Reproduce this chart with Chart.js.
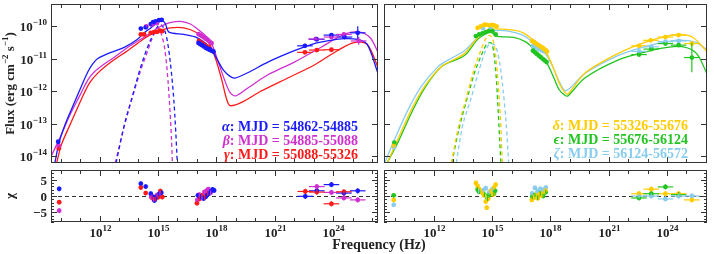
<!DOCTYPE html>
<html>
<head>
<meta charset="utf-8">
<script src="https://cdn.jsdelivr.net/npm/chart.js@4.4.0/dist/chart.umd.min.js"></script>
<style>
  html, body { margin: 0; padding: 0; background: #fff; }
  #wrap { position: relative; width: 714px; height: 254px; overflow: hidden; }
  canvas { position: absolute; }
  .leg { position: absolute; font: bold 14px "Liberation Serif", serif; line-height: 14px; text-align: right; white-space: nowrap; }
  #xtitle { position: absolute; left: 279px; width: 200px; top: 237px; font: bold 14px "Liberation Serif", serif; line-height: 16px; text-align: center; color: #222; }
</style>
</head>
<body>
<div id="wrap">
  <canvas id="tl" width="382" height="167" style="left:0;top:0"></canvas>
  <canvas id="bl" width="382" height="88" style="left:0;top:166px"></canvas>
  <canvas id="tr" width="334" height="167" style="left:380px;top:0"></canvas>
  <canvas id="br" width="334" height="88" style="left:380px;top:166px"></canvas>
  <div class="leg" style="right:356px;top:120px">
    <div style="color:#1a1aff"><i>α</i>: MJD = 54862-54885</div>
    <div style="color:#d030d0"><i>β</i>: MJD = 54885-55088</div>
    <div style="color:#ff1a1a"><i>γ</i>: MJD = 55088-55326</div>
  </div>
  <div class="leg" style="right:26px;top:119px">
    <div style="color:#ffcc00"><i>δ</i>: MJD = 55326-55676</div>
    <div style="color:#22c422"><i>ϵ</i>: MJD = 55676-56124</div>
    <div style="color:#88ccee"><i>ζ</i>: MJD = 56124-56572</div>
  </div>
  <div id="xtitle">Frequency (Hz)</div>
</div>
<script>
// all values are log10(frequency / Hz), log10(flux / erg cm^-2 s^-1) or chi
// observed points: [logNu, logF, errNu, errF]
const alphaObs = [
  [9.88, -13.55, 0, 0.05],
  [14.12, -10.07, 0, 0.03], [14.37, -10.03, 0, 0.03], [14.63, -9.93, 0, 0.03], [14.75, -9.87, 0, 0.03],
  [14.88, -9.85, 0, 0.03], [15.05, -9.81, 0, 0.03], [15.19, -9.80, 0, 0.03],
  [17.08, -10.51, 0, 0], [17.17, -10.55, 0, 0], [17.26, -10.58, 0, 0], [17.35, -10.62, 0, 0], [17.45, -10.66, 0, 0],
  [17.55, -10.69, 0, 0], [17.65, -10.72, 0, 0], [17.75, -10.75, 0, 0], [17.85, -10.78, 0, 0],
  [22.54, -10.60, 0.4, 0.06], [23.15, -10.40, 0.4, 0.05], [23.90, -10.27, 0.4, 0.05], [24.57, -10.33, 0.4, 0.06], [25.25, -10.20, 0.4, 0.2]
];
const betaObs = [
  [9.91, -13.68, 0, 0.05],
  [14.40, -10.00, 0, 0.03], [14.70, -9.95, 0, 0.03], [14.95, -9.90, 0, 0.03],
  [17.08, -10.24, 0, 0], [17.17, -10.27, 0, 0], [17.26, -10.30, 0, 0], [17.35, -10.34, 0, 0], [17.45, -10.38, 0, 0],
  [17.55, -10.42, 0, 0], [17.65, -10.47, 0, 0], [17.75, -10.52, 0, 0],
  [23.10, -10.39, 0.4, 0.05], [23.90, -10.33, 0.4, 0.05], [24.54, -10.25, 0.4, 0.06], [25.30, -10.45, 0.4, 0.12]
];
const gammaObs = [
  [9.91, -13.75, 0, 0.05],
  [14.12, -10.25, 0, 0.03], [14.29, -10.25, 0, 0.03], [14.63, -10.20, 0, 0.03], [14.80, -10.18, 0, 0.03],
  [14.96, -10.17, 0, 0.03], [15.10, -10.13, 0, 0.03], [15.22, -10.15, 0, 0.03],
  [17.10, -10.45, 0, 0], [17.25, -10.51, 0, 0], [17.40, -10.57, 0, 0], [17.55, -10.63, 0, 0],
  [22.54, -10.80, 0.4, 0.05], [23.15, -10.73, 0.4, 0.05], [23.90, -10.72, 0.4, 0.05]
];
const deltaObs = [
  [9.93, -13.68, 0, 0.05],
  [14.25, -10.05, 0, 0.03], [14.41, -10.00, 0, 0.03], [14.58, -9.96, 0, 0.03], [14.67, -9.95, 0, 0.03],
  [14.84, -9.97, 0, 0.03], [15.00, -9.96, 0, 0.03], [15.09, -9.97, 0, 0.03], [15.23, -10.00, 0, 0.03],
  [17.06, -10.45, 0, 0], [17.16, -10.49, 0, 0], [17.26, -10.53, 0, 0], [17.36, -10.57, 0, 0], [17.46, -10.61, 0, 0],
  [17.56, -10.65, 0, 0], [17.66, -10.69, 0, 0], [17.76, -10.74, 0, 0], [17.82, -10.78, 0, 0],
  [22.56, -10.60, 0.4, 0.05], [23.16, -10.43, 0.4, 0.05], [23.92, -10.33, 0.4, 0.05], [24.60, -10.27, 0.4, 0.06], [25.28, -10.53, 0.4, 0.08]
];
const epsObs = [
  [9.96, -13.58, 0, 0.05],
  [14.16, -10.30, 0, 0.03], [14.33, -10.25, 0, 0.03], [14.50, -10.22, 0, 0.03], [14.67, -10.18, 0, 0.03],
  [14.84, -10.15, 0, 0.03], [15.01, -10.15, 0, 0.03], [15.18, -10.25, 0, 0.03],
  [17.10, -10.75, 0, 0], [17.20, -10.80, 0, 0], [17.30, -10.85, 0, 0], [17.40, -10.90, 0, 0],
  [17.50, -10.95, 0, 0], [17.60, -11.00, 0, 0], [17.70, -11.05, 0, 0], [17.80, -11.10, 0, 0],
  [22.56, -10.87, 0.4, 0.05], [23.19, -10.70, 0.4, 0.05], [23.92, -10.53, 0.4, 0.05], [24.60, -10.58, 0.4, 0.06], [25.28, -10.96, 0.4, 0.45]
];
const zetaObs = [
  [9.95, -13.72, 0, 0.05],
  [14.52, -10.06, 0, 0.03], [14.92, -10.06, 0, 0.03],
  [17.10, -10.60, 0, 0], [17.25, -10.65, 0, 0], [17.40, -10.70, 0, 0], [17.55, -10.74, 0, 0], [17.70, -10.78, 0, 0],
  [22.56, -10.77, 0.4, 0.05], [23.19, -10.63, 0.4, 0.05], [23.92, -10.47, 0.4, 0.05], [24.60, -10.45, 0.4, 0.06]
];

// model curves (solid) and thermal components (dashed): [logNu, logF]
const alphaModel = [[9.71, -14.20], [9.92, -13.58], [10.22, -13.04], [10.64, -12.44], [11.07, -11.84], [11.41, -11.39], [11.66, -11.15],
  [11.91, -10.99], [12.59, -10.80], [13.27, -10.65], [13.95, -10.40], [14.29, -10.20], [14.63, -10.05], [15.05, -9.86], [15.25, -9.84],
  [15.38, -9.92], [15.56, -10.18], [16.32, -10.25], [17.00, -10.35], [17.68, -10.65], [18.01, -10.99], [18.35, -11.34], [18.70, -11.54],
  [18.95, -11.59], [19.63, -11.42], [20.64, -11.10], [22.00, -10.75], [23.02, -10.53], [23.86, -10.43], [24.54, -10.38], [25.22, -10.40],
  [25.73, -10.55], [26.29, -11.45]];
const betaModel = [[9.51, -14.00], [9.97, -13.43], [10.47, -12.74], [10.98, -12.14], [11.41, -11.64], [11.75, -11.39], [12.17, -11.19],
  [12.76, -10.95], [13.44, -10.65], [14.12, -10.40], [14.63, -10.20], [15.05, -10.03], [15.39, -9.93], [15.73, -9.87], [16.15, -9.85],
  [16.66, -9.93], [17.17, -10.15], [17.68, -10.45], [18.01, -10.95], [18.35, -11.54], [18.70, -12.04], [18.99, -12.14], [19.63, -11.89],
  [20.64, -11.49], [22.00, -11.10], [23.35, -10.65], [24.54, -10.25], [25.30, -10.17], [25.89, -10.35], [26.29, -10.80]];
const gammaModel = [[9.80, -14.20], [10.05, -13.63], [10.56, -12.93], [11.07, -12.24], [11.49, -11.74], [11.91, -11.44], [12.59, -11.10],
  [13.44, -10.75], [14.12, -10.45], [14.63, -10.25], [15.13, -10.13], [15.64, -10.05], [16.32, -10.05], [17.00, -10.20], [17.59, -10.50],
  [17.93, -10.95], [18.27, -11.64], [18.52, -12.24], [18.70, -12.44], [19.29, -12.34], [20.30, -11.99], [21.66, -11.59], [23.02, -11.19],
  [24.20, -10.75], [25.05, -10.50], [25.73, -10.55], [26.31, -11.29]];
const alphaDisk = [[12.85, -14.20], [13.27, -13.04], [13.69, -12.14], [14.12, -11.24], [14.46, -10.65], [14.80, -10.20], [15.10, -9.95],
  [15.36, -10.15], [15.53, -10.63], [15.69, -11.43], [15.81, -12.24], [15.91, -13.22], [15.99, -14.20]];
const betaDisk = [[12.81, -14.20], [13.27, -13.07], [13.69, -12.18], [14.12, -11.34], [14.44, -10.81], [14.69, -10.39], [14.98, -10.05],
  [15.17, -10.24], [15.36, -10.75], [15.51, -11.64], [15.61, -12.54], [15.69, -13.43], [15.74, -14.20]];

const deltaModel = [[9.59, -14.20], [10.18, -13.43], [10.86, -12.54], [11.53, -11.84], [12.38, -11.24], [13.57, -10.84], [14.25, -10.35],
  [14.76, -10.10], [15.26, -10.08], [16.11, -10.12], [16.60, -10.20], [17.06, -10.40], [17.50, -10.62], [17.85, -10.88], [18.15, -11.28],
  [18.48, -11.78], [18.74, -12.03], [18.90, -12.08], [19.77, -11.44], [21.47, -10.84], [22.82, -10.50], [24.01, -10.30], [24.69, -10.25],
  [25.36, -10.35], [26.06, -10.78]];
const epsModel = [[9.59, -14.20], [10.18, -13.53], [10.86, -12.64], [11.53, -11.89], [12.38, -11.24], [13.57, -10.90], [14.25, -10.40],
  [14.76, -10.20], [14.95, -10.17], [15.18, -10.30], [16.11, -10.34], [16.70, -10.47], [17.10, -10.67], [17.50, -10.92], [17.85, -11.17],
  [18.15, -11.55], [18.45, -11.95], [18.74, -12.12], [18.90, -12.14], [19.77, -11.59], [21.47, -11.04], [22.82, -10.80], [24.01, -10.65],
  [24.85, -10.63], [25.53, -10.84], [26.12, -11.54]];
const zetaModel = [[9.43, -14.25], [10.01, -13.43], [10.69, -12.54], [11.36, -11.84], [12.21, -11.24], [12.72, -11.04], [13.57, -10.75],
  [14.25, -10.35], [14.76, -10.15], [15.09, -10.13], [15.77, -10.14], [16.60, -10.28], [17.10, -10.50], [17.50, -10.68], [17.85, -10.93],
  [18.15, -11.28], [18.45, -11.70], [18.80, -11.98], [19.77, -11.45], [21.47, -10.90], [22.82, -10.63], [24.01, -10.47], [24.85, -10.43],
  [25.53, -10.50], [26.21, -10.80]];
const deltaDisk = [[12.90, -14.20], [13.25, -13.13], [13.65, -12.24], [14.06, -11.34], [14.41, -10.75], [14.65, -10.40], [14.85, -10.28],
  [15.05, -10.45], [15.20, -11.00], [15.33, -11.94], [15.44, -13.00], [15.52, -14.20]];
const epsDisk = [[12.92, -14.20], [13.30, -13.13], [13.70, -12.24], [14.11, -11.40], [14.47, -10.85], [14.72, -10.55], [14.90, -10.50],
  [15.06, -10.72], [15.20, -11.50], [15.30, -12.50], [15.38, -13.43], [15.45, -14.20]];
const zetaDisk = [[13.15, -14.20], [13.45, -13.13], [13.90, -12.24], [14.30, -11.40], [14.62, -10.81], [14.90, -10.54], [15.12, -10.57],
  [15.35, -11.00], [15.56, -11.94], [15.72, -12.99], [15.85, -14.20]];

// residuals: [logNu, chi, errNu, errChi]
const alphaRes = [[9.93, 2.2, 0, 0.7], [14.12, 3.8, 0, 0.7], [14.37, 2.9, 0, 0.7], [14.63, 0.7, 0, 0.7], [14.75, -0.3, 0, 0.7],
  [14.82, -1.4, 0, 0.7], [14.92, -0.3, 0, 0.7], [15.05, 0.6, 0, 0.7], [15.17, 1.0, 0, 0.7],
  [17.05, 0.2, 0, 0.7], [17.17, -0.3, 0, 0.7], [17.34, -0.8, 0, 0.7], [17.45, -0.2, 0, 0.7], [17.51, 0.2, 0, 0.7],
  [17.62, 0.8, 0, 0.7], [17.68, 1.3, 0, 0.7], [17.80, 2.0, 0, 0.7], [17.88, 1.7, 0, 0.7],
  [22.56, -0.1, 0.4, 0.8], [23.15, 1.6, 0.4, 0.8], [23.90, 3.5, 0.4, 0.8], [24.54, 0.9, 0.4, 0.8], [25.25, 1.6, 0.4, 0.8]];
const betaRes = [[9.93, -4.5, 0, 0.7], [14.65, -0.3, 0, 0.7], [14.78, -1.1, 0, 0.7], [14.95, 0.3, 0, 0.7], [15.10, 0.8, 0, 0.7],
  [17.02, -1.2, 0, 0.7], [17.12, 0.4, 0, 0.7], [17.25, -0.6, 0, 0.7], [17.38, 1.2, 0, 0.7], [17.48, 1.6, 0, 0.7],
  [17.58, 2.1, 0, 0.7], [17.70, 1.0, 0, 0.7],
  [23.15, 2.9, 0.4, 0.8], [23.90, 1.1, 0.4, 0.8], [24.54, -0.6, 0.4, 0.8], [25.25, -1.2, 0.4, 0.8]];
const gammaRes = [[9.93, -1.9, 0, 0.7], [14.12, 2.6, 0, 0.7], [14.37, 0.9, 0, 0.7], [14.70, -0.5, 0, 0.7], [14.86, -0.9, 0, 0.7],
  [15.00, -0.4, 0, 0.7], [15.12, 1.5, 0, 0.7], [15.22, -0.3, 0, 0.7],
  [17.00, -2.2, 0, 0.7], [17.12, -0.9, 0, 0.7], [17.25, 0.2, 0, 0.7], [17.40, -0.4, 0, 0.7], [17.55, 0.8, 0, 0.7],
  [22.56, 1.4, 0.4, 0.8], [23.15, 1.2, 0.4, 0.8], [23.90, -2.4, 0.4, 0.8], [24.54, 1.3, 0.4, 0.8]];
const deltaRes = [[9.93, -1.2, 0, 0.7], [14.16, 4.0, 0, 0.7], [14.25, 3.1, 0, 0.7], [14.33, 2.1, 0, 0.7], [14.50, 1.0, 0, 0.7],
  [14.58, 0.2, 0, 0.7], [14.67, -1.7, 0, 0.7], [14.72, -3.6, 0, 0.7], [14.80, -0.8, 0, 0.7], [14.92, 1.5, 0, 0.7],
  [15.05, 0.5, 0, 0.7], [15.09, 2.6, 0, 0.7], [15.18, 3.5, 0, 0.7],
  [17.04, -1.2, 0, 0.7], [17.14, -0.5, 0, 0.7], [17.24, 0.3, 0, 0.7], [17.34, -0.7, 0, 0.7], [17.44, 0.6, 0, 0.7],
  [17.54, 0.1, 0, 0.7], [17.64, 1.2, 0, 0.7], [17.74, 1.8, 0, 0.7],
  [22.56, 0.7, 0.4, 0.8], [23.19, 2.1, 0.4, 0.8], [23.92, 0.7, 0.4, 0.8], [24.60, 0.7, 0.4, 0.8], [25.28, -1.2, 0.4, 0.8]];
const epsRes = [[9.93, 0.2, 0, 0.7], [14.25, 2.0, 0, 0.7], [14.33, 1.3, 0, 0.7], [14.60, 0.4, 0, 0.7], [14.76, -0.8, 0, 0.7],
  [14.84, 0.2, 0, 0.7], [15.09, 0.7, 0, 0.7], [15.15, 1.6, 0, 0.7],
  [17.06, -0.3, 0, 0.7], [17.20, 0.3, 0, 0.7], [17.34, -0.5, 0, 0.7], [17.48, 0.8, 0, 0.7], [17.62, 0.0, 0, 0.7], [17.76, 1.2, 0, 0.7],
  [22.56, -0.6, 0.4, 0.8], [23.19, 0.7, 0.4, 0.8], [23.92, 2.8, 0.4, 0.8], [24.60, 0.4, 0.4, 0.8]];
const zetaRes = [[9.93, -2.7, 0, 0.7], [14.30, 1.5, 0, 0.7], [14.55, 1.8, 0, 0.7], [14.67, 2.4, 0, 0.7], [14.84, 1.1, 0, 0.7],
  [15.00, 2.0, 0, 0.7],
  [17.06, 0.8, 0, 0.7], [17.20, 2.5, 0, 0.7], [17.34, 1.5, 0, 0.7], [17.48, 2.2, 0, 0.7], [17.62, 1.9, 0, 0.7], [17.76, 2.6, 0, 0.7],
  [22.56, 0.0, 0.4, 0.8], [23.19, 0.0, 0.4, 0.8], [23.92, -0.9, 0.4, 0.8], [24.60, 0.0, 0.4, 0.8], [25.28, 0.0, 0.4, 0.8]];

const BLUE = '#1a1aff', MAG = '#d030d0', RED = '#ff1a1a';
const GOLD = '#ffcc00', GREEN = '#22c422', SKY = '#88ccee';
const FONT = '"Liberation Serif", "DejaVu Serif", serif';

// draw text with superscripts: parts = [[text, isSup], ...]
function rich(ctx, parts, x, y, align, size) {
    const sup = Math.round(size * 0.7);
    let w = 0;
    const ws = parts.map(([t, s]) => {
        ctx.font = 'bold ' + (s ? sup : size) + 'px ' + FONT;
        const m = ctx.measureText(t).width;
        w += m;
        return m;
    });
    let cx = align === 'right' ? x - w : align === 'center' ? x - w / 2 : x;
    parts.forEach(([t, s], i) => {
        ctx.font = 'bold ' + (s ? sup : size) + 'px ' + FONT;
        ctx.fillText(t, cx, s ? y - size * 0.45 : y);
        cx += ws[i];
    });
}
const pow = e => [['10', false], [e < 0 ? '\u2212' + (-e) : String(e), true]];

const frameCfg = {
    tl: { yLabels: true, title: [['Flux (erg cm', false], ['\u22122', true], [' s', false], ['\u22121', true], [')', false]] },
    bl: { yLabels: true, chi: true, xLabels: true, title: [['\u03c7', false]] },
    tr: {},
    br: { chi: true, xLabels: true }
};

const frame = {
    id: 'frame',
    beforeDatasetsDraw(chart) {
        const cfg = frameCfg[chart.canvas.id];
        if (!cfg.chi) return;
        const { ctx, chartArea: a, scales: { y } } = chart;
        ctx.save();
        ctx.strokeStyle = '#333';
        ctx.lineWidth = 1;
        ctx.setLineDash([4, 3]);
        const py = Math.round(y.getPixelForValue(0)) + 0.5;
        ctx.beginPath(); ctx.moveTo(a.left, py); ctx.lineTo(a.right, py); ctx.stroke();
        ctx.restore();
    },
    afterDatasetsDraw(chart) {
        const cfg = frameCfg[chart.canvas.id];
        const { ctx, chartArea: a, scales: { x, y } } = chart;
        const seg = (x1, y1, x2, y2) => { ctx.beginPath(); ctx.moveTo(x1, y1); ctx.lineTo(x2, y2); ctx.stroke(); };
        ctx.save();
        ctx.strokeStyle = '#333';
        ctx.fillStyle = '#222';
        ctx.lineWidth = 1;
        ctx.textBaseline = 'alphabetic';
        ctx.textAlign = 'left';
        ctx.strokeRect(a.left + 0.5, a.top + 0.5, a.right - a.left - 1, a.bottom - a.top - 1);
        for (let v = Math.ceil(x.min); v <= x.max; v++) {
            const px = Math.round(x.getPixelForValue(v)) + 0.5;
            const len = v % 3 === 0 ? 6 : 4;
            seg(px, a.bottom, px, a.bottom - len);
            seg(px, a.top, px, a.top + len);
            if (cfg.xLabels && v % 3 === 0) rich(ctx, pow(v), px, a.bottom + 15, 'center', 13);
        }
        for (let v = Math.ceil(y.min); v <= y.max; v++) {
            const py = Math.round(y.getPixelForValue(v)) + 0.5;
            const len = cfg.chi ? (v % 5 === 0 ? 6 : 3) : 6;
            seg(a.left, py, a.left + len, py);
            seg(a.right, py, a.right - len, py);
            if (!cfg.yLabels) continue;
            if (cfg.chi) {
                if (v % 5 === 0) rich(ctx, [[v < 0 ? '\u2212' + (-v) : String(v), false]], a.left - 4, py + 4.5, 'right', 13);
            } else {
                rich(ctx, pow(v), a.left - 4, py + 4.5, 'right', 13);
            }
        }
        if (cfg.title) {
            ctx.translate(9, (a.top + a.bottom) / 2);
            ctx.rotate(-Math.PI / 2);
            rich(ctx, cfg.title, 0, 4.5, 'center', 13);
        }
        ctx.restore();
    }
};

const errbars = {
    id: 'errbars',
    afterDatasetsDraw(chart) {
        const { ctx, chartArea: a, scales: { x, y } } = chart;
        ctx.save();
        ctx.beginPath();
        ctx.rect(a.left, a.top, a.right - a.left, a.bottom - a.top);
        ctx.clip();
        ctx.lineWidth = 1.2;
        chart.data.datasets.forEach(ds => {
            if (!ds.err) return;
            ctx.strokeStyle = ds.borderColor;
            ds.err.forEach((e, i) => {
                const p = ds.data[i];
                const px = x.getPixelForValue(p.x), py = y.getPixelForValue(p.y);
                if (e[0]) {
                    ctx.beginPath();
                    ctx.moveTo(x.getPixelForValue(p.x - e[0]), py);
                    ctx.lineTo(x.getPixelForValue(p.x + e[0]), py);
                    ctx.stroke();
                }
                if (e[1]) {
                    ctx.beginPath();
                    ctx.moveTo(px, y.getPixelForValue(p.y - e[1]));
                    ctx.lineTo(px, y.getPixelForValue(p.y + e[1]));
                    ctx.stroke();
                }
            });
        });
        ctx.restore();
    }
};

const pts = (rows, c) => ({
    data: rows.map(p => ({ x: p[0], y: p[1] })),
    err: rows.map(p => [p[2], p[3]]),
    backgroundColor: c, borderColor: c, pointRadius: 2.4, pointBorderWidth: 0,
    showLine: false, order: 0
});
// solid model curves are smoothed with a light bezier, dashed ones kept monotone
const curve = (rows, c, dashed) => ({
    data: rows.map(p => ({ x: p[0], y: p[1] })),
    borderColor: c, backgroundColor: c, borderWidth: 1.3, borderDash: dashed ? [4, 3] : [],
    pointRadius: 0, showLine: true, order: 1, clip: 0,
    cubicInterpolationMode: dashed ? 'monotone' : 'default', tension: dashed ? 0 : 0.3
});

function makeChart(id, xr, yr, pad, datasets) {
    return new Chart(document.getElementById(id), {
        type: 'scatter',
        data: { datasets },
        options: {
            responsive: false,
            animation: false,
            events: [],
            layout: { padding: pad },
            scales: {
                x: { type: 'linear', min: xr[0], max: xr[1], display: false },
                y: { type: 'linear', min: yr[0], max: yr[1], display: false }
            },
            plugins: { legend: { display: false }, tooltip: { enabled: false } }
        },
        plugins: [frame, errbars]
    });
}

const xLeft = [9.51, 26.29], xRight = [9.43, 26.06];
const yFlux = [-14.203, -9.314], yChi = [-8, 8];

makeChart('tl', xLeft, yFlux, { left: 51, top: 2, right: 1, bottom: 1 }, [
    pts(alphaObs, BLUE), pts(betaObs, MAG), pts(gammaObs, RED),
    curve(alphaModel, BLUE), curve(betaModel, MAG), curve(gammaModel, RED),
    curve(alphaDisk, BLUE, true), curve(betaDisk, MAG, true)
]);
makeChart('bl', xLeft, yChi, { left: 51, top: 0, right: 1, bottom: 32 }, [
    pts(alphaRes, BLUE), pts(betaRes, MAG), pts(gammaRes, RED)
]);
makeChart('tr', xRight, yFlux, { left: 0, top: 2, right: 7, bottom: 1 }, [
    pts(deltaObs, GOLD), pts(epsObs, GREEN), pts(zetaObs, SKY),
    curve(deltaModel, GOLD), curve(zetaModel, SKY), curve(epsModel, GREEN),
    curve(deltaDisk, GOLD, true), curve(epsDisk, GREEN, true), curve(zetaDisk, SKY, true)
]);
makeChart('br', xRight, yChi, { left: 0, top: 0, right: 7, bottom: 32 }, [
    pts(deltaRes, GOLD), pts(epsRes, GREEN), pts(zetaRes, SKY)
]);
</script>
</body>
</html>
